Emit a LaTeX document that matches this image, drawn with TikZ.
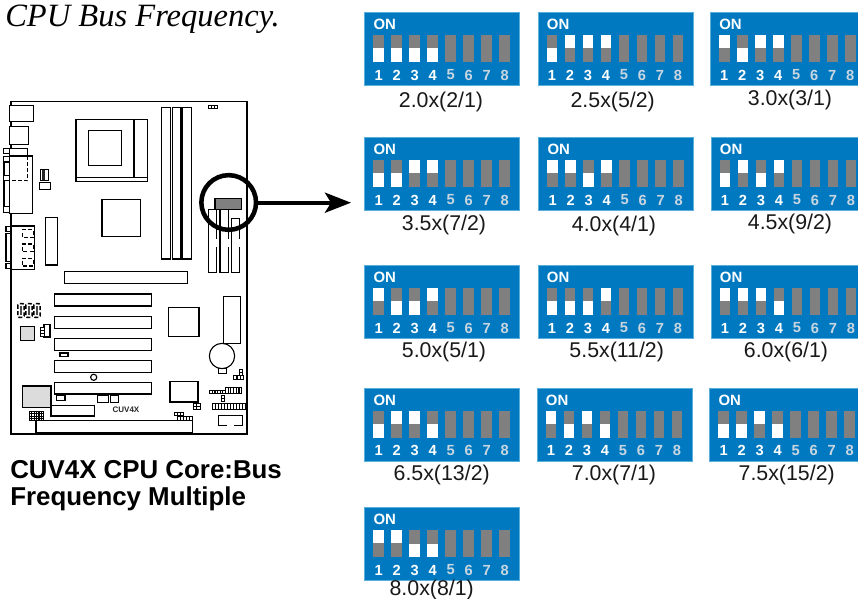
\documentclass[tikz,border=0pt]{standalone}
\usepackage{fontspec}
\setmainfont{Liberation Sans}
\newfontfamily\serifit[ItalicFont=Liberation Serif Italic]{Liberation Serif}
\usetikzlibrary{arrows.meta}
\definecolor{dipblue}{HTML}{0179C1}
\definecolor{dipedge}{HTML}{5AAEDC}
\definecolor{dipgray}{HTML}{808080}
\definecolor{diglight}{HTML}{C9D6E0}
\definecolor{boardgray}{HTML}{DCDCDC}
\tikzset{
  b/.style={draw=black,line width=0.85pt,fill=white},
  o/.style={draw=black,line width=0.85pt},
  d/.style={draw=black,line width=0.9pt,dash pattern=on 3pt off 1.6pt},
  dipbox/.style={draw=dipedge,line width=0.4pt,fill=dipblue,anchor=north west,inner sep=0pt,minimum width=116.2pt,minimum height=54.6pt},
  diptext/.style={font=\fontsize{11pt}{12pt}\selectfont\bfseries,inner sep=0pt},
  ratio/.style={font=\fontsize{16pt}{18pt}\selectfont,inner sep=0pt,text=black!90},
  title/.style={font=\fontsize{19.4pt}{26pt}\selectfont\bfseries,inner sep=0pt,anchor=base west},
  ringstyle/.style={circle,draw=black,line width=3.4pt,minimum size=41pt,inner sep=0pt},
  arrowline/.style={draw=black,line width=3pt,-{Stealth[length=19.5pt,width=15pt,inset=4.5pt]}}
}
\newcommand{\R}[4]{\draw[b] (#1,#2) rectangle (#3,#4);}
\newcommand{\GR}[4]{\draw[b,fill=boardgray] (#1,#2) rectangle (#3,#4);}
% black header with white pin holes: x,y,columns,rows,cell width,cell height
\newcommand{\HD}[6]{%
  \fill[black] (#1,#2) rectangle ++({#3*#5+0.8},{#4*#6+0.8});
  \foreach \cx in {1,...,#3}{\foreach \cy in {1,...,#4}{%
    \fill[white] ({#1+(\cx-1)*#5+1},{#2+(\cy-1)*#6+1}) rectangle ++({#5-1.2},{#6-1.2});}}}
% DIP switch block: name,x,y,states,label,label x,label y
\newcommand{\dip}[7]{%
  \node[dipbox] (#1) at (#2,#3) {};
  \node[diptext,anchor=west,font=\fontsize{11.2pt}{12pt}\selectfont\bfseries,text=white] (#1on) at ({#2+9},{#3+12}) {ON};
  \foreach \st [count=\i] in {#4}{%
    \pgfmathsetmacro{\sx}{#2+9+(\i-1)*18}
    \fill[dipgray] (\sx,{#3+22.7}) rectangle ++(10.7,27.3);
    \if\st U\fill[white] (\sx,{#3+22.7}) rectangle ++(10.7,13.2);\fi
    \if\st D\fill[white] (\sx,{#3+36.2}) rectangle ++(10.7,13.8);\fi
    \ifnum\i<5\def\dc{white}\else\def\dc{diglight}\fi
    \node[diptext,text=\dc] (#1n\i) at ({\sx+5.3},{#3+62.7}) {\i};
  }
  \node[ratio] (#1lab) at (#6,{#7+1}) {#5};
}
\begin{document}
\begin{tikzpicture}[x=0.75pt,y=-0.75pt]
\useasboundingbox (0,0) rectangle (858,599);
\fill[white] (0,0) rectangle (858,599);

% heading
\node[anchor=base west,inner sep=0pt,font=\serifit\itshape\fontsize{24.4pt}{28pt}\selectfont] (head) at (5,27) {CPU Bus Frequency.};

% motherboard
\draw[b] (11,101.7) rectangle (247,434);
\R{9.3}{105.7}{33.3}{121.7}
\R{9.3}{126.7}{28.3}{144.3}
\R{3.3}{148.5}{9.3}{153.5}
\R{3.3}{156.7}{9.3}{162}
\R{4}{162}{9.3}{175.3}
\R{3.3}{175.3}{9.3}{180.7}
\R{4}{180.7}{9.3}{206.7}
\R{3.3}{206.7}{9.3}{212.7}
\R{9.3}{148.3}{27.7}{156}
\R{9.3}{156}{32.7}{213.3}
\draw[d] (27.7,156) -- (27.7,180.7) -- (9.3,180.7);
\R{40.7}{169.3}{48.3}{180.7}
\fill[black!85] (42,170.5) rectangle (44.5,180);
\R{39.3}{182.3}{50.7}{189.3}
\R{45.7}{217.3}{57.7}{265}
\R{6}{226.7}{11}{231.7}
\R{6}{233.3}{11}{261.7}
\R{6}{263.3}{11}{268.7}
\R{11}{226}{34.3}{269.3}
\draw[d] (22.3,229.3) -- (33.3,229.3) -- (33.3,237.3) -- (22.3,237.3) -- cycle;
\draw[d] (22.3,244) -- (33.3,244) -- (33.3,251.7) -- (22.3,251.7) -- cycle;
\draw[d] (22.3,258.7) -- (33.3,258.7) -- (33.3,266) -- (22.3,266) -- cycle;
% CPU socket
\R{76}{119.3}{147.3}{181.3}
\draw[o] (76,177.3) -- (147.3,177.3);
\draw[o] (134,119.3) -- (134,177.3);
\R{88.7}{130.7}{121.7}{165.3}
\R{102}{199.3}{140.7}{236.7}
% memory
\R{161.3}{107.3}{170.3}{259}
\R{172.3}{107.3}{181}{259}
\R{182.7}{107.3}{191.7}{259}
\HD{208}{104.7}{3}{1}{3}{3.4}
% lower right slots
\R{208.3}{209.3}{216.7}{272.7}
\R{220}{209.3}{228.3}{272.7}
\R{231.3}{218.3}{239.3}{272.7}
\fill[white] (215.6,239) rectangle (217.6,247);
\fill[white] (227.3,239) rectangle (229.3,247);
\fill[white] (238.3,239) rectangle (240.3,247);
\draw[b,fill=dipgray] (215,198.3) rectangle (241.3,209.3);
% slots
\R{64.3}{271.7}{187.3}{283.7}
\R{54.3}{294}{151.7}{306}
\R{54.3}{316.7}{151.7}{328.3}
\R{54.3}{338.7}{151.7}{350.3}
\R{54.3}{360.7}{151.7}{372.3}
\R{54.3}{382.7}{151.7}{394}
\foreach \xx in {17.8,25.8,33.8}{\draw[d,line width=1.1pt,rounded corners=1pt] (\xx,303.6) rectangle ++(6.4,13.8);\fill[black!70] ({\xx+2.2},306) rectangle ++(2,9);}
\GR{20.7}{326.7}{34.3}{340.3}
\R{44}{324.3}{50}{337}
\HD{40}{327.3}{1}{3}{4}{3.1}
\draw[b,line width=1.3pt] (60,352.8) rectangle (68,356.4);
\node[circle,o,fill=white,minimum size=4.6pt,inner sep=0pt] (hole) at (93.7,377.3) {};
\GR{22.7}{386}{51}{407.7}
\draw[b,line width=1.3pt] (56.5,394.8) rectangle (65.3,400.5);
\R{51}{405.3}{94.3}{416}
\HD{29}{411}{6}{4}{2.4}{2.4}
\R{97.7}{394}{108.3}{402.3}
\draw[black,line width=1.2pt] (97.7,395.2) -- (108.3,395.2);
\R{110.7}{395}{118.7}{402.7}
\node[inner sep=0pt,font=\fontsize{6pt}{7pt}\selectfont\bfseries,text=black!85] (model) at (126,409.3) {CUV4X};
\R{36}{420.7}{192.3}{432.3}
% right side
\R{168.3}{307.3}{199}{336.7}
\R{218.3}{368.3}{226.7}{373.3}
\R{223.7}{296.7}{240.7}{343.3}
\node[circle,b,minimum size=19pt,inner sep=0pt] (battery) at (222,356) {};
\HD{239.3}{369}{1}{2}{3}{3}
\HD{233.3}{375.3}{3}{1}{3.2}{4}
\R{170}{381.3}{198}{402}
\HD{192.7}{403.3}{2}{2}{3.6}{3.1}
\HD{209.3}{390}{6}{1}{2.6}{3.6}
\HD{225}{387.3}{6}{1}{2.7}{5.6}
\HD{220.7}{395}{1}{2}{3.2}{3.2}
\HD{211.7}{403.3}{11}{1}{3}{6.4}
\HD{174}{411.7}{3}{1}{3}{4}
\HD{176.7}{416}{5}{1}{3}{4.4}
\draw[o] (226.7,425.3) -- (218.7,425.3) -- (218.7,415.7) -- (242.3,415.7) -- (242.3,425.3) -- (234,425.3);

% magnifier and arrow
\node[ringstyle] (ring) at (228.7,202.5) {};
\coordinate (tip) at (351,202.7);
\draw[arrowline] (ring.east |- tip) -- (tip);

% captions
\node[title] (cap1) at (10,479) {CUV4X CPU Core:Bus};
\node[title] (cap2) at (10,505) {Frequency Multiple};

% DIP switches
\dip{da}{364.3}{12.3}{D,D,D,D,N,N,N,N}{2.0x(2/1)}{441}{101}
\dip{db}{537.7}{12.3}{D,U,U,U,N,N,N,N}{2.5x(5/2)}{612.7}{101}
\dip{dc}{710}{12.3}{U,D,U,U,N,N,N,N}{3.0x(3/1)}{790}{99}
\dip{dd}{364.3}{137.3}{D,D,U,U,N,N,N,N}{3.5x(7/2)}{444}{224}
\dip{de}{538.3}{137.3}{U,U,D,U,N,N,N,N}{4.0x(4/1)}{614}{225}
\dip{df}{710.7}{137.3}{D,U,D,U,N,N,N,N}{4.5x(9/2)}{790}{222.7}
\dip{dg}{364.3}{265.3}{U,D,D,U,N,N,N,N}{5.0x(5/1)}{444}{350.7}
\dip{dh}{537.7}{265.3}{D,D,D,U,N,N,N,N}{5.5x(11/2)}{616.7}{351}
\dip{di}{710.7}{265.3}{U,U,U,D,N,N,N,N}{6.0x(6/1)}{786}{351}
\dip{dj}{364.3}{388}{D,U,U,D,N,N,N,N}{6.5x(13/2)}{441.7}{474}
\dip{dk}{536.7}{388}{U,D,U,D,N,N,N,N}{7.0x(7/1)}{614}{474}
\dip{dl}{709.3}{388}{D,D,U,D,N,N,N,N}{7.5x(15/2)}{786.7}{474}
\dip{dm}{364.3}{507.3}{U,U,D,D,N,N,N,N}{8.0x(8/1)}{431.7}{588.6}
\end{tikzpicture}
\end{document}
